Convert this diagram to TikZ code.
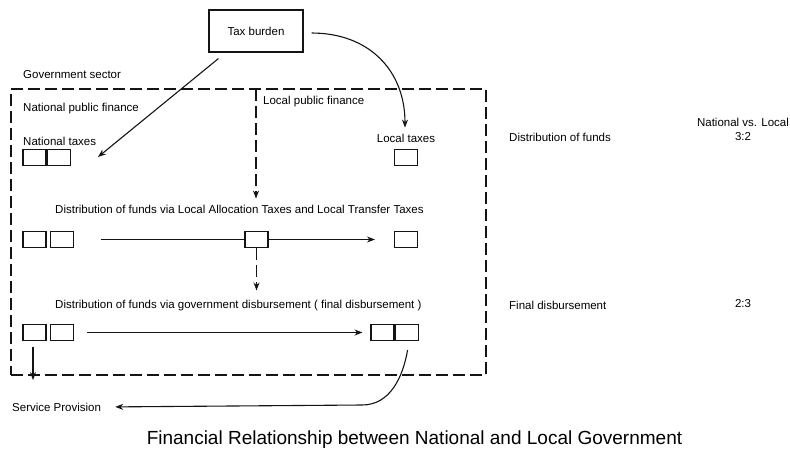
\documentclass[tikz,border=0pt]{standalone}
\usepackage{fontspec}
\setmainfont{Liberation Sans}
\usepackage{tikz}
\usetikzlibrary{
  arrows.meta,
  positioning,
  calc
}
\definecolor{InkBlack}{RGB}{20,20,20}
\tikzset{
  burden/.style={draw=InkBlack,line width=1.1pt,minimum width=94pt,minimum height=42pt,inner sep=0pt,font=\fontsize{11.5}{13}\selectfont},
  cell/.style={draw=InkBlack,line width=1.1pt,minimum width=23pt,minimum height=16pt,inner sep=0pt},
  govbox/.style={draw=InkBlack,line width=1.2pt,dash pattern=on 12pt off 5pt,minimum width=475pt,minimum height=286pt,inner sep=0pt},
  lbl/.style={inner sep=0pt,anchor=west,font=\fontsize{11.5}{13}\selectfont},
  clbl/.style={inner sep=0pt,font=\fontsize{11.5}{13}\selectfont},
  flow/.style={-{Stealth[length=8pt,width=6pt]},line width=1.1pt,draw=InkBlack},
  dflow/.style={-{Stealth[length=8pt,width=6pt]},line width=1.1pt,draw=InkBlack,dash pattern=on 12pt off 5pt},
  plain/.style={line width=1.1pt,draw=InkBlack}
}

\begin{document}
\begin{tikzpicture}[x=1pt,y=-1pt]
\useasboundingbox (0,0) rectangle (790,451);

\node[burden] (tax) at (256,31) {Tax burden};
\node[govbox] (gov) at (248.5,232) {};

\node[lbl] (govlbl) at (23,75) {Government sector};
\node[lbl] (natlbl) at (23,109) {National public finance};
\node[lbl] (loclbl) at (263,102) {Local public finance};
\node[lbl] (ntlbl) at (23,141) {National taxes};
\node[clbl] (ltlbl) at (406,138) {Local taxes};
\node[lbl] (dflbl) at (509,137) {Distribution of funds};
\node[clbl] (nvl) at (743,122) {National vs. Local};
\node[clbl] (ratio1) at (743,137) {3:2};
\node[lbl] (latlbl) at (55,209) {Distribution of funds via Local Allocation Taxes and Local Transfer Taxes};
\node[lbl] (gdlbl) at (55,306) {Distribution of funds via government disbursement ( final disbursement )};
\node[lbl] (fdlbl) at (509,305) {Final disbursement};
\node[clbl] (ratio2) at (743,304) {2:3};
\node[lbl] (svc) at (12,407) {Service Provision};
\node[font=\fontsize{19}{22}\selectfont,inner sep=0pt] (cap) at (414.5,440) {Financial Relationship between National and Local Government};

% row 1
\node[cell] (nt1) at (34.5,157.5) {};
\node[cell,right=0pt of nt1] (nt2) {};
\node[cell] (lt) at (406,157.5) {};

% row 2
\node[cell] (a1) at (34.5,239.5) {};
\node[cell,right=3pt of a1] (a2) {};
\node[cell] (mid) at (256.5,239.5) {};
\node[cell] (a3) at (406,239.5) {};

% row 3
\node[cell] (b1) at (34.5,332.5) {};
\node[cell,right=3pt of b1] (b2) {};
\node[cell] (b3) at (382.5,332.5) {};
\node[cell,right=0pt of b3] (b4) {};

\coordinate (ntin) at (98,157);
\coordinate (lpf) at (256,89);
\coordinate (drop) at (33,380);
\coordinate (bend) at (362,405);

\draw[flow] ([xshift=10pt,yshift=-6pt]tax.south west) -- (ntin);
\draw[flow] ([xshift=8pt,yshift=-2pt]tax.east) to[out=0,in=90,looseness=1.1] ([xshift=-1pt,yshift=6pt]ltlbl.north);
\draw[dflow,shorten >=6pt] (lpf) -- (lpf |- latlbl.north);

\draw[plain] ([xshift=27pt]a2.east) -- (mid.west);
\draw[flow,shorten >=19pt] (mid.east) -- (a3.west);
\draw[dflow,shorten >=10pt] (mid.south) -- (mid.south |- gdlbl.north);

\draw[flow,shorten >=8pt] ([xshift=13pt]b2.east) -- (b3.west);
\draw[flow] ([xshift=-1.5pt,yshift=-6pt]b1.south) -- (drop);
\draw[flow,shorten >=14pt] ([xshift=1pt,yshift=-9pt]b4.south) to[out=-100,in=0] (bend) -- (svc.east);
\end{tikzpicture}
\end{document}
